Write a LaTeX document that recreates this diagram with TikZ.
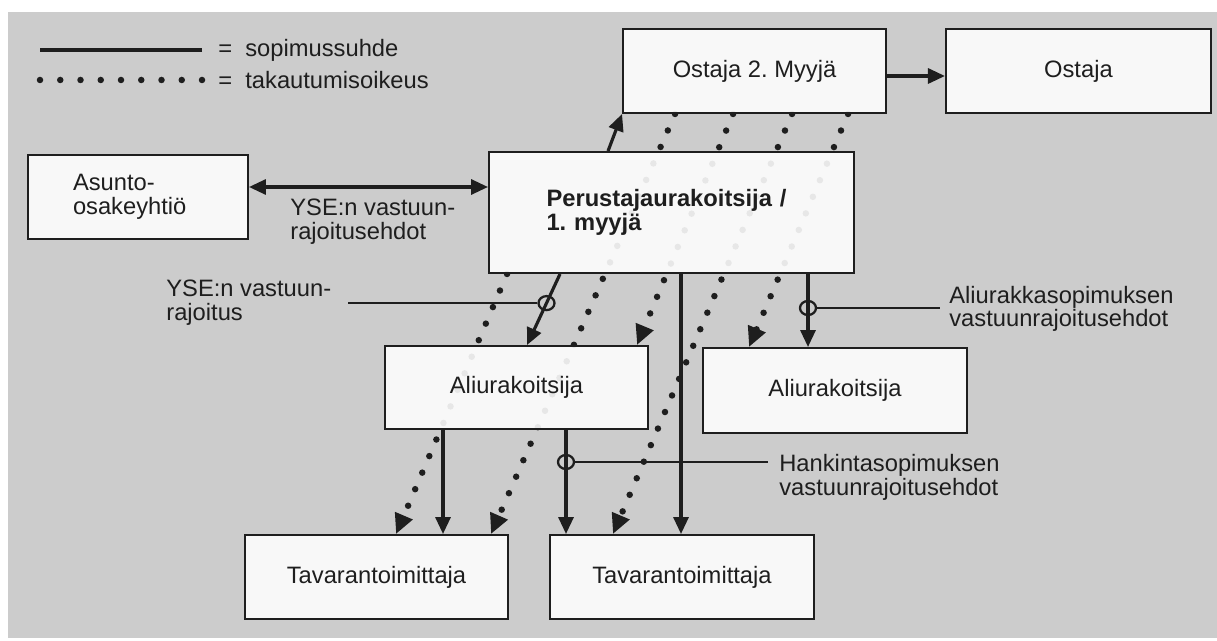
\documentclass[tikz,border=0pt]{standalone}
\definecolor{panel}{RGB}{204, 204, 204}
\definecolor{ink}{RGB}{30, 30, 30}
\definecolor{paper}{RGB}{253, 253, 253}
\usepackage{fontspec}
\setmainfont{Liberation Sans}
\usepackage{tikz}
\usetikzlibrary{positioning,calc,arrows.meta,shapes.geometric}
\pgfdeclarelayer{bg}
\pgfdeclarelayer{lines}
\pgfsetlayers{bg,lines,main}
\frenchspacing

\begin{document}
\begin{tikzpicture}[>={Triangle[length=0.34cm,width=0.3cm]},
    every node/.style={font=\fontsize{13.5}{13.5}\selectfont, text=ink},
    box/.style={draw=ink, line width=1.1pt, fill=paper, fill opacity=0.9, text opacity=1,
        inner sep=0pt, minimum width=5.26cm, minimum height=1.68cm},
    note/.style={inner sep=0pt, align=left},
    sol/.style={line width=1.8pt, draw=ink},
    dotline/.style={line width=0.13cm, line cap=round, dash pattern=on 0pt off 0.36cm, draw=ink,
        >={Triangle[length=0.4cm,width=0.36cm]}},
    ring/.style={ellipse, draw=ink, line width=1.3pt, inner sep=0pt, minimum width=0.32cm, minimum height=0.28cm}]
    \useasboundingbox (0,0) rectangle (24.34,-12.82);
    \begin{pgfonlayer}{bg}
        \fill[panel] (0.16,-0.24) rectangle (24.34,-12.76);
    \end{pgfonlayer}

    % legend
    \node[note, anchor=west] (solidkey) at (4.36,-1.0) {= ~sopimussuhde};
    \node[note, anchor=west] (dotkey) at (4.36,-1.6) {= ~takautumisoikeus};
    \draw[sol] ([xshift=-0.32cm]solidkey.west) -- ++(-3.24,0);
    \draw[dotline, dash pattern=on 0pt off 0.405cm] ([xshift=-0.32cm]dotkey.west) -- ++(-3.245,0);

    % boxes
    \node[box, minimum width=4.4cm, text width=2.6cm, align=left] (asunto) at (2.76,-3.94) {Asunto-\\osakeyhtiö};
    \node[box, minimum width=7.3cm, minimum height=2.42cm, text width=5.0cm, align=left,
        font=\fontsize{13.5}{13.5}\selectfont\bfseries] (perustaja) at (13.43,-4.25) {Perustajaurakoitsija /\\1.\ myyjä};
    \node[box] (ostaja2) at (15.09,-1.42) {Ostaja 2.\ Myyjä};
    \node[box, minimum width=5.3cm, right=1.16cm of ostaja2] (ostaja) {Ostaja};
    \node[box, minimum height=1.66cm] (aliL) at (10.33,-7.75) {Aliurakoitsija};
    \node[box, minimum width=5.28cm, minimum height=1.7cm] (aliR) at (16.70,-7.81) {Aliurakoitsija};
    \node[box] (tavL) at (7.53,-11.54) {Tavarantoimittaja};
    \node[box, minimum width=5.28cm, right=0.8cm of tavL] (tavR) {Tavarantoimittaja};

    % sopimussuhteet
    \draw[sol, <->] (asunto.east |- 0,-3.74) -- (perustaja.west |- 0,-3.74);
    \node[note, anchor=west] (ysetxt) at (5.8,-4.43) {YSE:n vastuun-\\rajoitusehdot};
    \draw[sol, ->] ([xshift=2.4cm]perustaja.north west) -- (ostaja2.south west);
    \draw[sol, ->] (ostaja2.east |- 0,-1.52) -- (ostaja.west |- 0,-1.52);

    \coordinate (yse1) at ([xshift=1.44cm]perustaja.south west);
    \coordinate (yse2) at ([xshift=2.86cm]aliL.north west);
    \node[ring] (c1) at ($(yse1)!0.41!(yse2)$) {};
    \node[ring] (c2) at (16.16,-6.16) {};
    \node[ring] (c3) at (11.32,-9.24) {};
    \draw[sol, ->] (yse1) -- (yse2);
    \draw[sol, ->] (perustaja.south -| c2) -- (aliR.north -| c2);
    \draw[sol, ->] (perustaja.south -| 13.62,0) -- (tavR.north -| 13.62,0);
    \draw[sol, ->] (aliL.south -| 8.86,0) -- (tavL.north -| 8.86,0);
    \draw[sol, ->] (aliL.south -| c3) -- (tavR.north -| c3);

    % vastuunrajoitukset
    \node[note, anchor=west] (ysenote) at (3.32,-6.05) {YSE:n vastuun-\\rajoitus};
    \node[note, anchor=west] (aliknote) at (18.98,-6.18) {Aliurakkasopimuksen\\vastuunrajoitusehdot};
    \node[note, anchor=west] (hanknote) at (15.58,-9.55) {Hankintasopimuksen\\vastuunrajoitusehdot};
    \draw[draw=ink, line width=1.2pt] (c1.west) -- (c1.west -| 6.96,0);
    \draw[draw=ink, line width=1.2pt] (c2.east) -- ([xshift=-0.18cm]aliknote.west |- c2.east);
    \draw[draw=ink, line width=1.2pt] (c3.east) -- ([xshift=-0.22cm]hanknote.west |- c3.east);

    % takautumisoikeudet
    \begin{pgfonlayer}{lines}
        \draw[dotline, ->] ([xshift=0.38cm]perustaja.south west) -- ([xshift=3.04cm]tavL.north west);
        \draw[dotline, ->] ([xshift=1.06cm]ostaja2.south west) -- ([xshift=4.94cm]tavL.north west);
        \draw[dotline, ->] ([xshift=2.22cm]ostaja2.south west) -- ([xshift=5.06cm]aliL.north west);
        \draw[dotline, ->] ([xshift=3.4cm]ostaja2.south west) -- ([xshift=1.28cm]tavR.north west);
        \draw[dotline, ->] ([xshift=4.52cm]ostaja2.south west) -- ([xshift=0.94cm]aliR.north west);
    \end{pgfonlayer}
\end{tikzpicture}
\end{document}
